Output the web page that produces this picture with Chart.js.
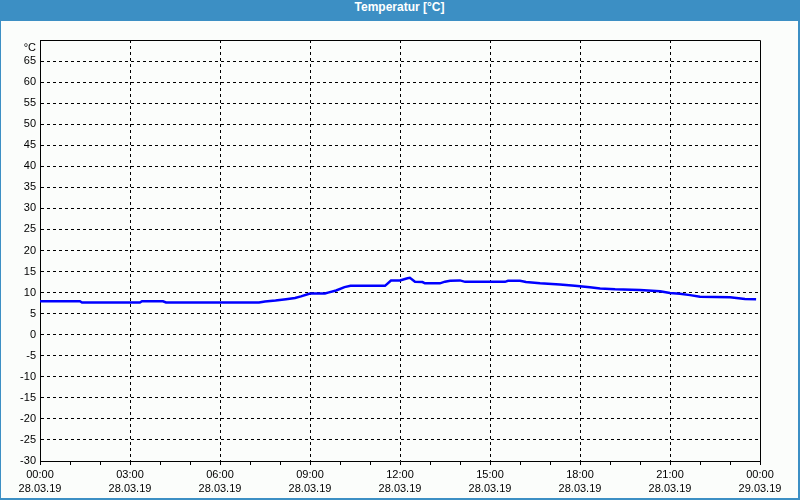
<!DOCTYPE html>
<html>
<head>
<meta charset="utf-8">
<script src="https://cdn.jsdelivr.net/npm/chart.js@4"></script>
<style>
  body { margin: 0; background: #fff; }
  #frame {
    position: absolute; left: 0; top: 0; width: 800px; height: 500px;
    box-sizing: border-box; background: #fbfdfb;
    border-left: 1px solid #3c8fc4; border-right: 2px solid #3c8fc4; border-bottom: 2px solid #3c8fc4;
  }
  #title {
    height: 21px; line-height: 21px; background: #3c8fc4; color: #fff;
    font: bold 12px "Liberation Sans", sans-serif; text-align: center;
  }
  #box { position: relative; width: 797px; height: 477px; }
</style>
</head>
<body>
<div id="frame">
  <div id="title">Temperatur [°C]</div>
  <div id="box"><canvas id="tempChart"></canvas></div>
</div>
<script>
// Messzeitpunkte in Stunden ab 28.03.19 00:00
const hours = [0, 1.33, 1.4, 3.33, 3.4, 4.1, 4.2, 7.3, 7.5, 7.85, 8.2, 8.5, 8.7, 9.0, 9.5, 9.6, 9.87,
  10.15, 10.35, 11.5, 11.7, 12.0, 12.25, 12.33, 12.5, 12.75, 12.83, 13.33, 13.5, 13.67, 14.0, 14.17,
  15.5, 15.6, 16.0, 16.2, 16.67, 17.33, 17.83, 18.33, 18.67, 19.17, 20.0, 20.67, 21.0, 21.33, 21.67,
  22.0, 23.0, 23.5, 23.87];
const temps = [7.95, 7.95, 7.65, 7.65, 7.95, 7.95, 7.65, 7.65, 7.9, 8.1, 8.4, 8.7, 9.1, 9.8, 9.8, 10.0, 10.5,
  11.3, 11.6, 11.6, 12.85, 12.9, 13.4, 13.5, 12.6, 12.5, 12.2, 12.2, 12.6, 12.8, 12.9, 12.55,
  12.55, 12.8, 12.8, 12.5, 12.2, 11.9, 11.6, 11.25, 11.0, 10.8, 10.6, 10.3, 9.9, 9.7, 9.4,
  9.0, 8.9, 8.5, 8.4];
const timeLabels = ["00:00", "03:00", "06:00", "09:00", "12:00", "15:00", "18:00", "21:00", "00:00"];
const dateLabels = ["28.03.19", "28.03.19", "28.03.19", "28.03.19", "28.03.19", "28.03.19", "28.03.19", "28.03.19", "29.03.19"];

const points = hours.map((h, i) => ({ x: h, y: temps[i] }));
const font = { family: "Liberation Sans", size: 11, lineHeight: 1.36 };

const frameLines = {
  id: "frameLines",
  afterDraw(chart) {
    const { ctx, chartArea: a } = chart;
    ctx.save();
    ctx.strokeStyle = "#000";
    ctx.lineWidth = 1;
    ctx.beginPath();
    ctx.moveTo(a.left, a.top + 0.5);
    ctx.lineTo(a.right + 0.5, a.top + 0.5);
    ctx.lineTo(a.right + 0.5, a.bottom);
    ctx.stroke();
    ctx.restore();
  },
};

new Chart(document.getElementById("tempChart"), {
  type: "line",
  data: {
    datasets: [{ data: points, borderColor: "#0000ff", borderWidth: 2.5, pointRadius: 0, tension: 0, fill: false }],
  },
  options: {
    responsive: true,
    maintainAspectRatio: false,
    animation: false,
    layout: { padding: { top: 19, right: 38, left: 0, bottom: 0 } },
    plugins: { legend: { display: false }, tooltip: { enabled: false } },
    scales: {
      x: {
        type: "linear", min: 0, max: 24,
        afterFit: (s) => { s.height = 37; },
        ticks: {
          stepSize: 1, autoSkip: false, maxRotation: 0, padding: 2, color: "#000", font,
          callback: (v) => (v % 3 === 0 ? [timeLabels[v / 3], dateLabels[v / 3]] : ""),
        },
        grid: {
          color: (c) => (c.tick && c.tick.value % 3 === 0 && c.tick.value > 0 && c.tick.value < 24 ? "#000" : "rgba(0,0,0,0)"),
          tickColor: "#000", tickLength: 4, lineWidth: 1,
        },
        border: { color: "#000", dash: [3, 3] },
      },
      y: {
        min: -30, max: 70,
        afterFit: (s) => { s.width = 39; },
        ticks: {
          stepSize: 5, autoSkip: false, padding: 4, color: "#000", font,
          callback: (v) => (v === 70 ? ["", "°C"] : v),
        },
        grid: {
          color: (c) => (c.tick && c.tick.value > -30 && c.tick.value < 70 ? "#000" : "rgba(0,0,0,0)"),
          drawTicks: false, lineWidth: 1,
        },
        border: { color: "#000", dash: [3, 3] },
      },
    },
  },
  plugins: [frameLines],
});
</script>
</body>
</html>
